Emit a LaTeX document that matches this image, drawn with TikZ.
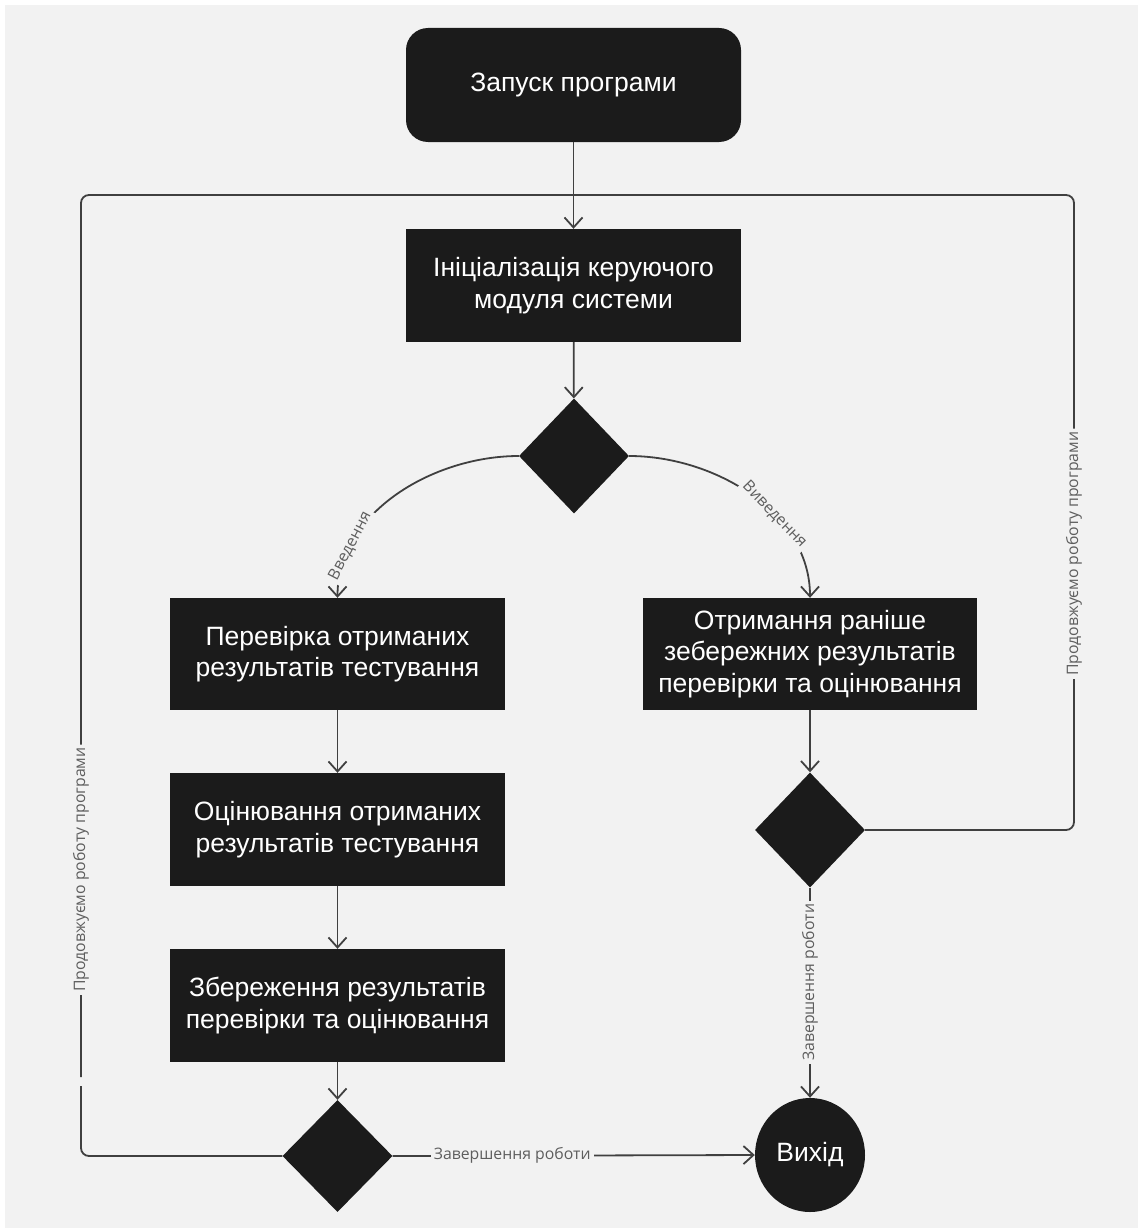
\documentclass[tikz,border=0pt]{standalone}
\usepackage{fontspec}
\setmainfont{Liberation Sans}
\newfontfamily\labelfont{Open Sans}
\usetikzlibrary{arrows.meta,shapes.geometric}

\definecolor{bgcol}{HTML}{F2F2F2}
\definecolor{boxcol}{HTML}{1B1B1B}
\definecolor{linecol}{HTML}{404040}
\definecolor{lblcol}{HTML}{5E5E5E}

\begin{document}
\begin{tikzpicture}[x=1pt,y=-1pt,
  block/.style={fill=boxcol, draw=none, text=white, align=center,
    font=\fontsize{26.5}{31.5}\selectfont,
    minimum width=335, minimum height=113, inner sep=0},
  startbox/.style={block, rounded corners=22},
  decision/.style={diamond, fill=boxcol, draw=none, inner sep=0,
    minimum width=110, minimum height=115},
  endcircle/.style={ellipse, fill=boxcol, draw=none, text=white,
    font=\fontsize{26.5}{30}\selectfont, minimum width=110, minimum height=114, inner sep=0},
  conn/.style={draw=linecol, line width=1.8pt},
  flow/.style={conn, -{Straight Barb[length=10pt,width=18pt]}},
  lbl/.style={fill=bgcol, text=lblcol, inner sep=3pt,
    font=\labelfont\fontsize{15.8}{18}\selectfont}
]
  % canvas
  \useasboundingbox (0,0) rectangle (1138,1228);
  \fill[bgcol] (5,5) rectangle (1138,1228);

  % nodes
  \node[startbox, minimum height=114] (start) at (573.5,85) {Запуск програми};
  \node[block] (init) at (573.5,285.5) {Ініціалізація керуючого\\модуля системи};
  \node[decision] (d1) at (574,456) {};

  \node[block, minimum height=112] (check) at (337.5,654) {Перевірка отриманих\\результатів тестування};
  \node[block] (eval) at (337.5,829.5) {Оцінювання отриманих\\результатів тестування};
  \node[block] (save) at (337.5,1005.5) {Збереження результатів\\перевірки та оцінювання};
  \node[decision, minimum height=112] (d2) at (337.5,1156) {};

  \node[block, minimum width=334, minimum height=112] (load) at (810,654) {Отримання раніше\\зебережних результатів\\перевірки та оцінювання};
  \node[decision] (d3) at (810,830) {};
  \node[endcircle] (exit) at (810,1155) {Вихід};

  % junction points of the return loops
  \coordinate (merge) at (573.5,195);
  \coordinate (rbot) at (1074,830);
  \coordinate (rtop) at (1074,195);
  \coordinate (lbot) at (81,1156);
  \coordinate (lgapA) at (81,1086);
  \coordinate (lgapB) at (81,1077);
  \coordinate (ltop) at (81,195);

  % main flow
  \draw[flow] (start) -- (init);
  \draw[flow] (init) -- (d1);
  \draw[flow] (d1.west) to[out=180,in=90,looseness=0.95]
     node[lbl, sloped, pos=0.78] {Введення} (check.north);
  \draw[flow] (d1.east) to[out=0,in=90,looseness=0.95]
     node[lbl, sloped, pos=0.62] {Виведення} (load.north);
  \draw[flow] (check) -- (eval);
  \draw[flow] (eval) -- (save);
  \draw[flow] (save) -- (d2);
  \draw[flow] (load) -- (d3);
  \draw[flow] (d2.east) -- node[lbl, pos=0.33] {Завершення роботи} (exit.west);
  \draw[flow] (d3.south) -- node[lbl, rotate=90, pos=0.45] {Завершення роботи} (exit.north);

  % return loops back to the initialisation
  \draw[conn, rounded corners=8] (d3.east) -- (rbot)
     -- node[lbl, rotate=90, pos=0.435] {Продовжуємо роботу програми} (rtop) -- (merge);
  \draw[conn, rounded corners=8] (d2.west) -- (lbot) -- (lgapA);
  \draw[conn, rounded corners=8] (lgapB)
     -- node[lbl, rotate=90, pos=0.235] {Продовжуємо роботу програми} (ltop) -- (merge);
\end{tikzpicture}
\end{document}
